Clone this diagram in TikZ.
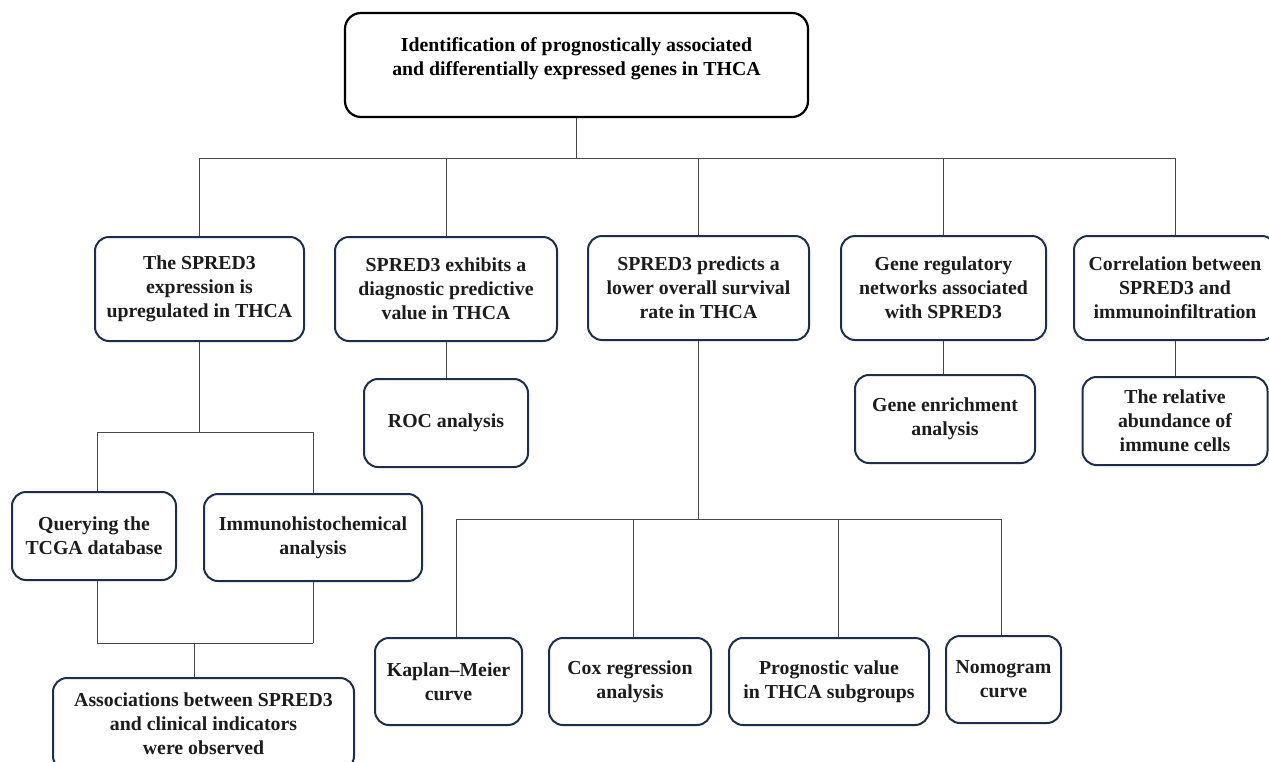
\documentclass[tikz,border=0pt]{standalone}
\usepackage{fontspec}
\setmainfont{Liberation Serif}
\usetikzlibrary{positioning}

\definecolor{boxline}{RGB}{30,44,78}
\definecolor{linkgray}{RGB}{70,70,70}
\definecolor{textc}{RGB}{28,28,28}

\tikzset{
    box/.style={draw=boxline, line width=2pt, rounded corners=14pt, fill=white,
        align=center, text=textc, font=\fontsize{19.8}{24}\selectfont\bfseries,
        inner sep=0pt},
    topbox/.style={draw=black, line width=2.2pt, rounded corners=16pt, fill=white,
        inner sep=0pt},
    link/.style={draw=linkgray, line width=1pt},
}

\begin{document}
\begin{tikzpicture}[x=1pt, y=-1pt]
    \clip (0,0) rectangle (1269,761);
    \fill[white] (0,0) rectangle (1269,761);

    % TOP
    \node[topbox, minimum width=463, minimum height=104] (top) at (576.5,65) {};
    \node[align=center, font=\fontsize{19.8}{24}\selectfont\bfseries] (toptext) at (576.5,59)
        {Identification of prognostically associated\\and differentially expressed genes in THCA};

    % FIRST ROW
    \node[box, minimum width=209, minimum height=104] (upreg) at (199.5,289)
        {The SPRED3\\expression is\\upregulated in THCA};
    \node[box, minimum width=222, minimum height=104] (diag) at (446,289)
        {SPRED3 exhibits a\\diagnostic predictive\\value in THCA};
    \node[box, minimum width=221, minimum height=104] (surv) at (698.5,288)
        {SPRED3 predicts a\\lower overall survival\\rate in THCA};
    \node[box, minimum width=205, minimum height=104] (netw) at (943.5,288)
        {Gene regulatory\\networks associated\\with SPRED3};
    \node[box, minimum width=202, minimum height=104] (infil) at (1175,288)
        {Correlation between\\SPRED3 and\\immunoinfiltration};

    % SECOND ROW
    \node[box, minimum width=164, minimum height=88] (roc) at (446,423) {ROC analysis};
    \node[box, minimum width=180, minimum height=88] (enrich) at (945,419)
        {Gene enrichment\\analysis};
    \node[box, minimum width=185, minimum height=88] (cells) at (1175,421)
        {The relative\\abundance of\\immune cells};

    % LEFT BRANCH
    \node[box, minimum width=164, minimum height=88] (tcga) at (94,536)
        {Querying the\\TCGA database};
    \node[box, minimum width=218, minimum height=87] (ihc) at (313,537.5)
        {Immunohistochemical\\analysis};
    \node[box, minimum width=301, minimum height=92] (assoc) at (203.5,724)
        {Associations between SPRED3\\and clinical indicators\\were observed};

    % SURVIVAL BRANCH
    \node[box, minimum width=147, minimum height=87] (km) at (448.5,681.5)
        {Kaplan--Meier\\curve};
    \node[box, minimum width=162, minimum height=87] (cox) at (630,681.5)
        {Cox regression\\analysis};
    \node[box, minimum width=200, minimum height=87] (prog) at (829,681.5)
        {Prognostic value\\in THCA subgroups};
    \node[box, minimum width=115, minimum height=87] (nomo) at (1003.5,679.5)
        {Nomogram\\curve};

    % Connectors
    \coordinate (bus) at (0,158);
    \coordinate (busL) at (0,432);
    \coordinate (busA) at (0,643);
    \coordinate (busM) at (0,519);

    \draw[link] (top.south) -- (top.south |- bus);
    \draw[link] (upreg.north |- bus) -- (infil.north |- bus);
    \foreach \n in {upreg, diag, surv, netw, infil}
        \draw[link] (\n.north |- bus) -- (\n.north);

    \draw[link] (diag.south) -- (roc.north);
    \draw[link] (netw.south) -- (netw.south |- enrich.north);
    \draw[link] (infil.south) -- (cells.north);

    \draw[link] (upreg.south) -- (upreg.south |- busL);
    \draw[link] ([xshift=3]tcga.north |- busL) -- (ihc.north |- busL);
    \draw[link] ([xshift=3]tcga.north |- busL) -- ([xshift=3]tcga.north);
    \draw[link] (ihc.north |- busL) -- (ihc.north);
    \draw[link] ([xshift=3]tcga.south) -- ([xshift=3]tcga.south |- busA);
    \draw[link] (ihc.south) -- (ihc.south |- busA);
    \draw[link] ([xshift=3]tcga.south |- busA) -- (ihc.south |- busA);
    \draw[link] ([xshift=-9.5]assoc.north |- busA) -- ([xshift=-9.5]assoc.north);

    \draw[link] (surv.south) -- (surv.south |- busM);
    \draw[link] ([xshift=7.5]km.north |- busM) -- ([xshift=-2.5]nomo.north |- busM);
    \draw[link] ([xshift=7.5]km.north |- busM) -- ([xshift=7.5]km.north);
    \draw[link] ([xshift=3]cox.north |- busM) -- ([xshift=3]cox.north);
    \draw[link] ([xshift=9]prog.north |- busM) -- ([xshift=9]prog.north);
    \draw[link] ([xshift=-2.5]nomo.north |- busM) -- ([xshift=-2.5]nomo.north);
\end{tikzpicture}
\end{document}
